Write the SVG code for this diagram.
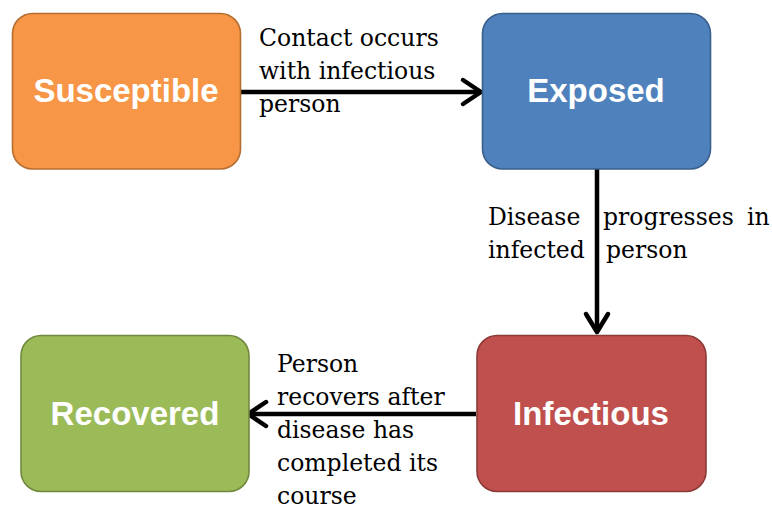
<svg xmlns="http://www.w3.org/2000/svg" width="772" height="510" viewBox="0 0 772 510">
<defs>
<style>
.box{stroke-width:1.6}
.nlabel{font-family:"Liberation Sans",Arial,sans-serif;font-weight:bold;font-size:33px;fill:#ffffff;text-anchor:middle}
.elabel{font-family:"DejaVu Serif","Liberation Serif",serif;font-size:23.5px;fill:#000000}
.conn{fill:none;stroke:#000000;stroke-width:4.5}
.head{fill:none;stroke:#000000;stroke-width:4.5;stroke-linecap:round;stroke-linejoin:round}
</style>
</defs>
<rect width="772" height="510" fill="#ffffff"/>
<g id="connectors">
<line class="conn" x1="241" y1="92" x2="480" y2="92"/>
<polyline class="head" points="463,80 481,92 463,104"/>
<line class="conn" x1="597" y1="169" x2="597" y2="331"/>
<polyline class="head" points="586,314 597,332 608,314"/>
<line class="conn" x1="476" y1="414" x2="249" y2="414"/>
<polyline class="head" points="266,402 248,414 266,426"/>
</g>
<g id="label-contact">
<text class="elabel" x="259" y="46">Contact occurs</text>
<text class="elabel" x="259" y="79">with infectious</text>
<text class="elabel" x="259" y="112">person</text>
</g>
<g id="label-disease">
<text class="elabel" x="488" y="225">Disease</text>
<text class="elabel" x="603" y="225">progresses</text>
<text class="elabel" x="747" y="225">in</text>
<text class="elabel" x="488" y="258">infected</text>
<text class="elabel" x="606" y="258">person</text>
</g>
<g id="label-recovers">
<text class="elabel" x="277" y="372">Person</text>
<text class="elabel" x="277" y="405">recovers after</text>
<text class="elabel" x="277" y="438">disease has</text>
<text class="elabel" x="277" y="471">completed its</text>
<text class="elabel" x="277" y="504">course</text>
</g>
<g id="node-susceptible">
<rect class="box" x="12.5" y="13.5" width="228" height="155.5" rx="20" fill="#F79646" stroke="#B66D31"/>
<text class="nlabel" x="126" y="102">Susceptible</text>
</g>
<g id="node-exposed">
<rect class="box" x="482.5" y="13.5" width="228" height="155.5" rx="20" fill="#4F81BD" stroke="#3A5F8B"/>
<text class="nlabel" x="596" y="102">Exposed</text>
</g>
<g id="node-infectious">
<rect class="box" x="477" y="335.5" width="229" height="156" rx="20" fill="#C0504D" stroke="#8C3A38"/>
<text class="nlabel" x="591" y="425">Infectious</text>
</g>
<g id="node-recovered">
<rect class="box" x="21" y="335.5" width="228" height="156" rx="20" fill="#9BBB59" stroke="#71893F"/>
<text class="nlabel" x="135" y="425">Recovered</text>
</g>
</svg>
